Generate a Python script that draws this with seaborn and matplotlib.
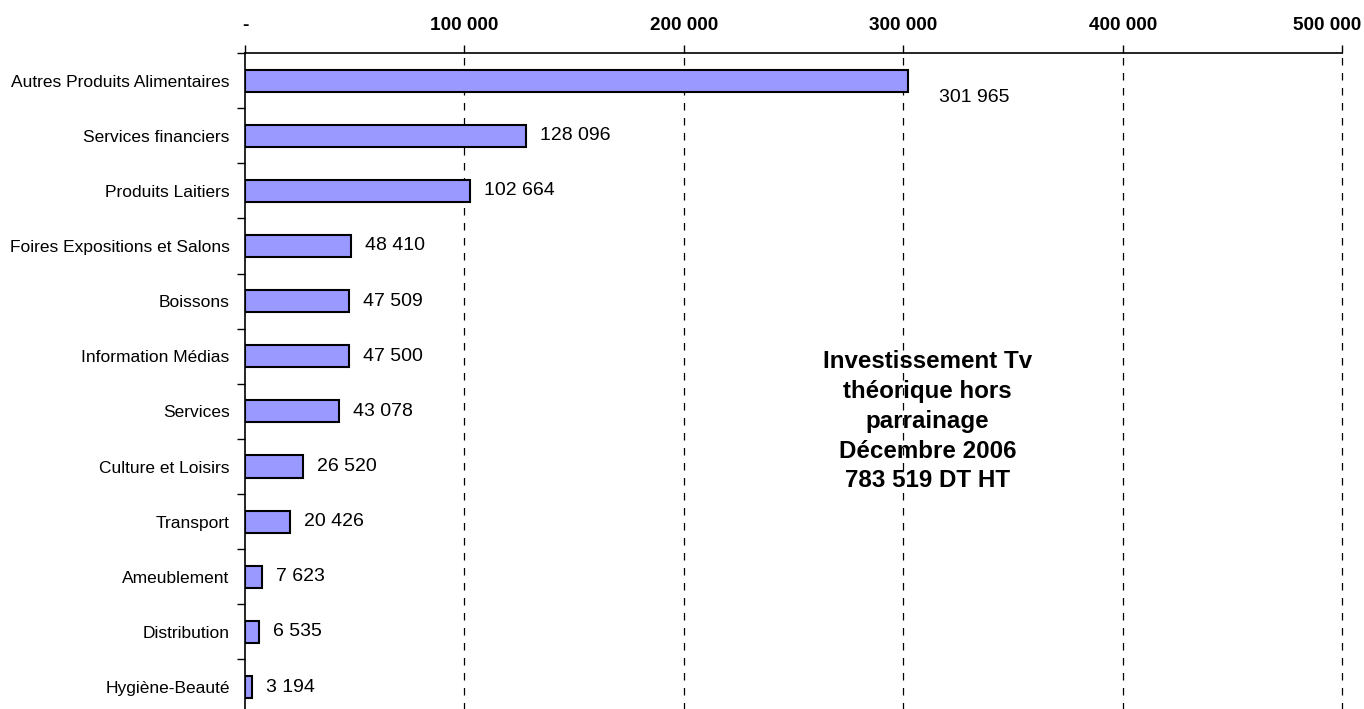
import seaborn as sns
import matplotlib.pyplot as plt
import matplotlib.transforms as mtransforms
import pandas as pd
import numpy as np

# Data
categories = [
    "Autres Produits Alimentaires", "Services financiers", "Produits Laitiers",
    "Foires Expositions et Salons", "Boissons", "Information Médias", "Services",
    "Culture et Loisirs", "Transport", "Ameublement", "Distribution", "Hygiène-Beauté",
]
values = [301965, 128096, 102664, 48410, 47509, 47500, 43078, 26520, 20426, 7623, 6535, 3194]
x_ticks = [0, 100000, 200000, 300000, 400000, 500000]
note = "Investissement Tv\nthéorique hors\nparrainage\nDécembre 2006\n783 519 DT HT"

df = pd.DataFrame({"Secteur": categories, "Investissement": values})

sns.set_style("white")
plt.rcParams['font.family'] = ['Liberation Sans', 'DejaVu Sans']
plt.rcParams['text.color'] = 'black'
plt.rcParams['xtick.color'] = 'black'
plt.rcParams['ytick.color'] = 'black'


def fmt(v):
    return f"{v:,}".replace(",", " ")


fig = plt.figure(figsize=(13.64, 7.09), dpi=100)
ax = fig.add_axes([0.1796, -0.0079, 0.8043, 0.9331])

sns.barplot(data=df, y="Secteur", x="Investissement", orient="h",
            color="#9999FF", saturation=1, width=0.4,
            edgecolor="black", linewidth=1.5, ax=ax)

ax.set_xlim(0, 500000)
ax.set_ylim(len(categories) - 0.5, -0.5)

# x axis on top, bold labels, "-" for zero
ax.xaxis.tick_top()
ax.set_xticks(x_ticks)
ax.set_xticklabels(["-" if t == 0 else fmt(t) for t in x_ticks],
                   fontsize=13.7, fontweight="bold")
ax.tick_params(axis="x", which="major", top=True, direction="out", length=6,
               width=1, pad=8)
# keep the last label inside the figure
last = ax.get_xticklabels()[-1]
last.set_transform(last.get_transform() +
                   mtransforms.ScaledTranslation(-15 / 100, 0, fig.dpi_scale_trans))
ax.set_xlabel("")
ax.set_ylabel("")

# y: labels at centres, tick marks at boundaries
ax.set_yticks(range(len(categories)))
ax.set_yticklabels(categories, fontsize=12.5)
ax.tick_params(axis="y", which="major", length=0, pad=11)
ax.set_yticks(np.arange(-0.5, len(categories), 1), minor=True)
ax.tick_params(axis="y", which="minor", left=True, direction="out", length=6, width=1)

# dashed vertical grid
for t in x_ticks[1:]:
    ax.axvline(t, color="black", linestyle=(0, (6, 6)), linewidth=0.9,
               zorder=0, clip_on=False)

for s in ["right", "bottom"]:
    ax.spines[s].set_visible(False)
for s in ["top", "left"]:
    ax.spines[s].set_color("black")
    ax.spines[s].set_linewidth(1.2)

# value labels
for i, v in enumerate(values):
    if i == 0:
        ax.annotate(fmt(v), (v, i), xytext=(23, -12), textcoords="offset points",
                    ha="left", va="center", fontsize=14)
    else:
        ax.annotate(fmt(v), (v, i), xytext=(10, 0), textcoords="offset points",
                    ha="left", va="center", fontsize=14)

ax.text(311000, 6.18, note, ha="center", va="center", fontsize=17.4,
        fontweight="bold", linespacing=1.38)

fig.savefig("out.png", dpi=100)
